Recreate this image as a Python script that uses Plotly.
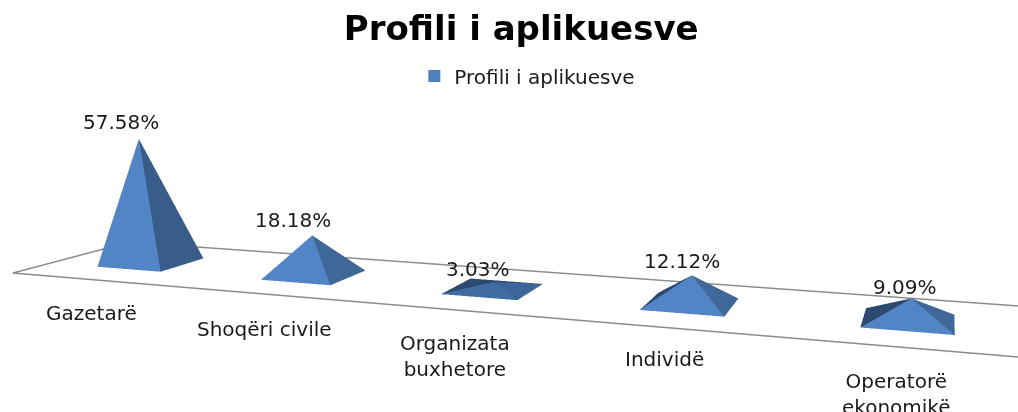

import plotly.graph_objects as go

categories = ["Gazetarë", "Shoqëri civile", "Organizata<br>buxhetore", "Individë", "Operatorë<br>ekonomikë"]
values = [57.58, 18.18, 3.03, 12.12, 9.09]
value_labels = ["57.58%", "18.18%", "3.03%", "12.12%", "9.09%"]
series_name = "Profili i aplikuesve"

HX, HY = 0.1985, 0.2087
FLOOR_X = (-0.504, 5.3)
FLOOR_Y = (-0.511, 0.516)
Z_MAX = 60.0
Z_SCALE = 0.01139
X_R = (-0.6, 5.4)
Y_R = (-0.6, 0.6)
H = 1000

FRONT = ["#5285C5", "#5285C5", "#3F6CA3", "#5285C5", "#5285C5"]
RIGHT = ["#385D8A", "#3F6899", "#3D659A", "#3F6899", "#3F6899"]
LEFT = "#2C4A70"
BACK = "#2C4A70"

fig = go.Figure()
for i, v in enumerate(values):
    fig.add_trace(go.Mesh3d(
        x=[i - HX, i + HX, i + HX, i - HX, i],
        y=[-HY, -HY, HY, HY, 0],
        z=[0, 0, 0, 0, v],
        i=[0, 1, 2, 3], j=[1, 2, 3, 0], k=[4, 4, 4, 4],
        facecolor=[FRONT[i], RIGHT[i], BACK, LEFT],
        flatshading=True,
        lighting=dict(ambient=1, diffuse=0, specular=0, fresnel=0, roughness=1),
        showlegend=False, hoverinfo="skip",
    ))

fig.add_trace(go.Scatter3d(
    x=[FLOOR_X[1], FLOOR_X[0], FLOOR_X[0], FLOOR_X[1]],
    y=[FLOOR_Y[0], FLOOR_Y[0], FLOOR_Y[1], FLOOR_Y[1]],
    z=[0, 0, 0, 0], mode="lines",
    line=dict(color="#8C8C8C", width=3), showlegend=False, hoverinfo="skip"))

# legend entry for the single series
fig.add_trace(go.Scatter3d(
    x=[None], y=[None], z=[None], mode="markers", name=series_name,
    marker=dict(symbol="square", size=12, color="#4F81BD")))

val_shift = [(-18, 17), (-19, 15), (-15, 13), (-10, 14), (-6, 11)]
cat_shift = [(-2, -33), (-1, -35), (-1, -46), (-4, -31), (-8, -46)]
font_txt = dict(family="DejaVu Sans", size=20, color="#1a1a1a")
annots = []
for i, (v, t) in enumerate(zip(values, value_labels)):
    annots.append(dict(x=i, y=0, z=v, text=t, showarrow=False, font=font_txt,
                       xshift=val_shift[i][0], yshift=val_shift[i][1]))
for i, c in enumerate(categories):
    annots.append(dict(x=i, y=FLOOR_Y[0], z=0, text=c, showarrow=False, font=font_txt,
                       xshift=cat_shift[i][0], yshift=cat_shift[i][1]))

axis_off = dict(visible=False, showgrid=False, zeroline=False, showbackground=False)
fig.update_layout(
    width=1018, height=H,
    margin=dict(l=0, r=0, t=0, b=0),
    paper_bgcolor="white",
    title=dict(text="Profili i aplikuesve", x=0.512, xanchor="center",
               y=1 - 28 / H, yanchor="middle",
               font=dict(family="DejaVu Sans", size=34, color="black", weight="bold")),
    legend=dict(x=0.518, xanchor="center", y=1 - 76 / H, yanchor="middle", orientation="h",
                itemwidth=30,
                font=dict(family="DejaVu Sans", size=20, color="#1a1a1a"),
                bgcolor="rgba(0,0,0,0)"),
    scene=dict(
        domain=dict(x=[0, 1], y=[0, 1]),
        xaxis=dict(range=list(X_R), **axis_off),
        yaxis=dict(range=list(Y_R), **axis_off),
        zaxis=dict(range=[0, Z_MAX], **axis_off),
        aspectmode="manual",
        aspectratio=dict(x=X_R[1] - X_R[0], y=Y_R[1] - Y_R[0], z=Z_MAX * Z_SCALE),
        camera=dict(
            eye=dict(x=1.6101, y=-5.6918, z=0.9086),
            center=dict(x=0.72, y=-3.0485, z=-0.1966),
            up=dict(x=-0.1247, y=0.3467, z=0.9297),
            projection=dict(type="perspective"),
        ),
        dragmode="orbit",
        annotations=annots,
    ),
)
fig.write_html("out.html", config=dict(displayModeBar=False),
               post_script="document.body.style.margin='0';document.documentElement.style.overflow='hidden';document.body.style.overflow='hidden';")
